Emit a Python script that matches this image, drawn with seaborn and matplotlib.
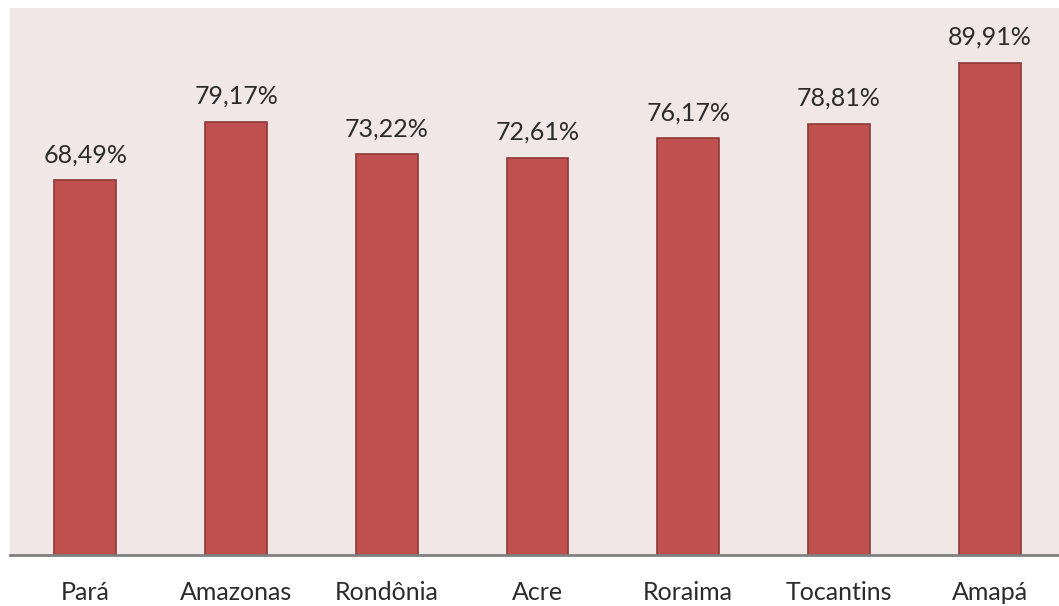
import matplotlib
matplotlib.use("Agg")
import matplotlib.pyplot as plt
import seaborn as sns
import pandas as pd

estados = ["Pará", "Amazonas", "Rondônia", "Acre", "Roraima", "Tocantins", "Amapá"]
valores = [68.49, 79.17, 73.22, 72.61, 76.17, 78.81, 89.91]
rotulos = ["68,49%", "79,17%", "73,22%", "72,61%", "76,17%", "78,81%", "89,91%"]

sns.set_style("white")
plt.rcParams['font.family'] = ['Lato', 'DejaVu Sans']

df = pd.DataFrame({"estado": estados, "valor": valores})

fig = plt.figure(figsize=(10.59, 6.06), dpi=100)
ax = fig.add_axes([10/1059, 51/606, 1055/1059, 547/606])
ax.set_facecolor("#F2E7E7")

sns.barplot(data=df, x="estado", y="valor", ax=ax, color="#C0504D",
            width=0.41, edgecolor="#8E3A38", linewidth=1.2, saturation=1)

for i, (v, t) in enumerate(zip(valores, rotulos)):
    ax.text(i, v + 2.6, t, ha="center", va="bottom", fontsize=18, color="#2b2b2b")

ax.set_ylim(0, 100)
ax.set_xlim(-0.5, 6.5)
ax.set_yticks([])
ax.set_xlabel("")
ax.set_ylabel("")
for s in ["top", "right", "left"]:
    ax.spines[s].set_visible(False)
ax.spines["bottom"].set_color("#808080")
ax.spines["bottom"].set_linewidth(2)
ax.tick_params(axis="x", length=0, labelsize=18, labelcolor="#2b2b2b", pad=19)

fig.savefig("out.png", dpi=100, facecolor="white")
